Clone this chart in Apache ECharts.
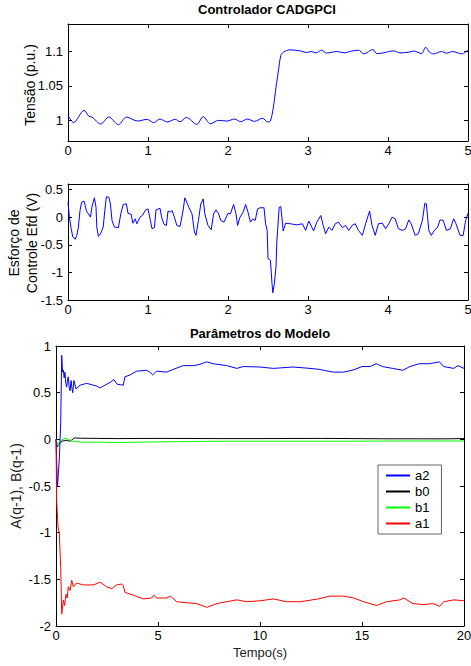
<!DOCTYPE html>
<html>
<head>
<meta charset="utf-8">
<script src="https://cdn.jsdelivr.net/npm/echarts@6/dist/echarts.min.js"></script>
<style>
html, body { margin: 0; padding: 0; background: #fff; }
#chart { width: 471px; height: 666px; }
</style>
</head>
<body>
<div id="chart"></div>
<script>
// Tensão (p.u.) - [tempo, valor]
var tensao = [[0,1.007],[0.07,0.9967],[0.2,1.0145],[0.26,1.006],[0.3,1.0048],[0.41,0.9947],[0.51,1.005],[0.63,0.9937],[0.73,1.0048],
  [0.87,0.999],[0.99,1.0015],[1.07,0.9966],[1.15,1.002],[1.24,0.9976],[1.34,1.0015],[1.4,0.998],[1.48,1.0043],[1.61,0.9942],
  [1.69,1.0053],[1.78,0.995],[1.88,1.0],[1.99,0.999],[2.08,1.0019],[2.16,0.998],[2.24,1.002],[2.33,0.9985],[2.43,1.003],
  [2.5,0.9976],[2.53,0.999],[2.567,1.019],[2.6,1.048],[2.63,1.072],[2.66,1.094],[2.69,1.099],[2.775,1.1025],[2.92,1.1005],
  [2.98,1.0985],[3.04,1.1],[3.1,1.098],[3.17,1.102],[3.23,1.0978],[3.36,1.1],[3.46,1.098],[3.52,1.1],[3.63,1.102],[3.7,1.0966],
  [3.81,1.103],[3.86,1.097],[3.94,1.098],[4.07,1.101],[4.15,1.098],[4.26,1.099],[4.32,1.1007],[4.42,1.097],[4.47,1.1063],
  [4.52,1.099],[4.57,1.0966],[4.67,1.1],[4.73,1.0976],[4.81,1.1],[4.92,1.0966],[5.0,1.102]];

// Esforço de controle Efd (V) - [tempo, valor]
var esforco = [[0,0.27],[0.017,0],[0.04,-0.21],[0.06,-0.36],[0.09,-0.4],[0.11,-0.33],[0.13,-0.18],[0.15,0.12],[0.17,0.27],
  [0.2,0.29],[0.21,0.24],[0.23,0.11],[0.25,0.07],[0.28,0],[0.3,0.19],[0.33,0.35],[0.35,0.18],[0.36,-0.18],[0.38,-0.35],
  [0.41,-0.29],[0.44,-0.18],[0.46,0.12],[0.48,0.37],[0.51,0.36],[0.53,0.24],[0.55,-0.06],[0.58,-0.18],[0.63,-0.19],
  [0.66,0.06],[0.69,0.23],[0.73,0.24],[0.75,0.07],[0.79,0.05],[0.81,-0.11],[0.84,-0.03],[0.86,-0.12],[0.9,0],[0.93,0.03],
  [0.97,0.13],[1.0,0.15],[1.03,-0.06],[1.05,-0.21],[1.08,-0.19],[1.1,0.13],[1.15,0.16],[1.17,0],[1.2,-0.13],[1.23,-0.15],
  [1.25,0.11],[1.28,0.09],[1.3,0.12],[1.33,0],[1.36,-0.15],[1.4,-0.17],[1.44,0.13],[1.46,0.35],[1.49,0.25],[1.51,0.18],
  [1.55,0.06],[1.58,-0.27],[1.6,-0.33],[1.63,-0.06],[1.66,0.24],[1.69,0.33],[1.71,0.06],[1.75,-0.15],[1.79,-0.23],
  [1.82,0.06],[1.85,0.13],[1.88,0.07],[1.91,-0.06],[1.95,-0.09],[2.0,0.07],[2.03,0.06],[2.07,0.23],[2.1,0.06],[2.12,-0.15],
  [2.15,0],[2.19,0.09],[2.22,0.23],[2.25,0.09],[2.28,-0.09],[2.31,-0.03],[2.34,-0.06],[2.37,0.15],[2.4,0.17],[2.45,0.17],
  [2.47,-0.12],[2.49,-0.24],[2.5,-0.75],[2.53,-0.78],[2.55,-1.2],[2.56,-1.37],[2.58,-1.2],[2.6,-0.9],[2.61,-0.45],
  [2.64,0.18],[2.66,0.19],[2.69,-0.25],[2.72,-0.11],[2.78,-0.12],[2.86,-0.14],[2.93,-0.12],[2.97,-0.24],[3.01,-0.07],
  [3.07,-0.25],[3.11,-0.09],[3.16,0.03],[3.19,-0.15],[3.22,-0.3],[3.26,-0.18],[3.3,-0.24],[3.34,-0.12],[3.38,-0.09],
  [3.43,-0.19],[3.47,-0.15],[3.51,-0.24],[3.55,-0.15],[3.59,-0.12],[3.63,-0.24],[3.68,-0.33],[3.72,-0.12],[3.77,0.11],
  [3.8,-0.15],[3.84,-0.33],[3.88,-0.12],[3.93,-0.11],[3.97,-0.21],[4.01,-0.12],[4.05,0],[4.09,-0.03],[4.13,-0.21],
  [4.18,-0.24],[4.22,-0.21],[4.26,-0.05],[4.29,-0.12],[4.34,-0.33],[4.38,-0.3],[4.43,-0.06],[4.46,0.25],[4.48,0.24],
  [4.51,-0.24],[4.54,-0.33],[4.58,-0.24],[4.62,-0.18],[4.65,-0.05],[4.69,-0.06],[4.73,-0.24],[4.78,-0.21],[4.82,-0.03],
  [4.85,-0.12],[4.9,-0.33],[4.94,-0.33],[4.97,-0.06],[5.0,0.07]];

// Parâmetros do modelo - [tempo, valor]
var a2 = [[0,0],[0.07,-0.51],[0.16,-0.22],[0.23,0.17],[0.28,0.9],[0.32,0.72],[0.36,0.74],[0.4,0.66],[0.44,0.72],[0.48,0.6],
  [0.52,0.56],[0.56,0.62],[0.6,0.67],[0.65,0.55],[0.69,0.52],[0.74,0.63],[0.78,0.55],[0.82,0.5],[0.88,0.63],[0.98,0.54],
  [1.18,0.58],[1.5,0.6],[1.83,0.58],[2.0,0.57],[2.16,0.55],[2.4,0.58],[2.65,0.61],[2.84,0.64],[3.0,0.59],[3.3,0.58],
  [3.38,0.67],[3.63,0.69],[3.95,0.73],[4.44,0.74],[4.6,0.72],[4.74,0.69],[4.93,0.73],[5.42,0.72],[5.75,0.75],[6.24,0.79],
  [6.73,0.79],[7.0,0.8],[7.39,0.83],[7.71,0.81],[8.37,0.79],[8.86,0.76],[9.18,0.78],[10,0.775],[10.65,0.76],[11.63,0.775],
  [12.45,0.76],[12.9,0.75],[13.1,0.74],[13.6,0.72],[14.1,0.72],[14.6,0.745],[15,0.78],[15.4,0.78],[15.7,0.81],[16,0.78],
  [16.5,0.76],[17,0.74],[17.35,0.78],[17.8,0.81],[18.3,0.81],[18.8,0.83],[19,0.78],[19.5,0.76],[19.7,0.79],[20,0.76]];
var b0 = [[0,0],[0.05,-0.08],[0.15,-0.05],[0.3,-0.02],[0.5,-0.01],[0.7,-0.02],[0.9,0.015],[1.2,0.012],[2,0.01],[3,0.008],
  [5,0.01],[8,0.008],[10,0.008],[13,0.01],[16,0.006],[19,0.005],[20,0.008]];
var b1 = [[0,0],[0.1,-0.06],[0.25,-0.01],[0.45,0.012],[0.6,0],[0.8,-0.02],[1.2,-0.03],[2,-0.03],[3,-0.035],[4,-0.03],
  [6,-0.025],[8,-0.02],[10,-0.02],[14,-0.02],[17,-0.018],[20,-0.018]];
var a1 = [[0,0],[0.03,-0.65],[0.1,-0.94],[0.16,-1.0],[0.23,-1.37],[0.28,-1.87],[0.36,-1.72],[0.42,-1.78],[0.49,-1.66],
  [0.55,-1.7],[0.6,-1.58],[0.69,-1.62],[0.77,-1.51],[0.85,-1.58],[1.0,-1.54],[1.34,-1.56],[1.83,-1.56],[2.16,-1.53],
  [2.48,-1.58],[2.73,-1.6],[2.97,-1.56],[3.22,-1.55],[3.3,-1.57],[3.38,-1.64],[3.79,-1.67],[4.28,-1.71],[4.69,-1.7],
  [4.8,-1.67],[4.93,-1.7],[5.42,-1.7],[5.62,-1.68],[5.92,-1.74],[6.4,-1.75],[6.9,-1.76],[7.39,-1.8],[7.88,-1.76],
  [8.37,-1.74],[8.86,-1.72],[9.35,-1.74],[10,-1.73],[10.65,-1.71],[11.3,-1.74],[11.96,-1.74],[12.86,-1.71],[13.4,-1.68],
  [14.1,-1.68],[14.6,-1.7],[15.07,-1.74],[15.72,-1.78],[16.2,-1.74],[16.86,-1.72],[17.05,-1.7],[17.5,-1.76],[18,-1.77],
  [18.5,-1.76],[18.8,-1.79],[19,-1.74],[19.5,-1.72],[20,-1.73]];

var ticksTensao = [1, 1.05, 1.1];
var ticksEsforco = [-1.5, -1, -0.5, 0, 0.5];
var legenda = ['a2', 'b0', 'b1', 'a1'];

var fonte = 'Liberation Sans, Arial, sans-serif';

function eixoX(grid, pos, max, interval, labels) {
  return {
    type: 'value', gridIndex: grid, position: pos, min: 0, max: max, interval: interval,
    axisLine: { show: true, onZero: false, lineStyle: { color: '#000', width: 1 } },
    axisTick: { show: true, inside: true, length: 4, lineStyle: { color: '#000' } },
    axisLabel: { show: labels, color: '#000', fontSize: 13, fontFamily: fonte, margin: 3 },
    splitLine: { show: false }
  };
}
function eixoY(grid, pos, min, max, labels, ticks, interval) {
  var e = {
    type: 'value', gridIndex: grid, position: pos, min: min, max: max,
    axisLine: { show: true, onZero: false, lineStyle: { color: '#000', width: 1 } },
    axisTick: { show: true, inside: true, length: 4, lineStyle: { color: '#000' } },
    axisLabel: { show: labels, color: '#000', fontSize: 13, fontFamily: fonte, margin: 5 },
    splitLine: { show: false }
  };
  if (ticks) {
    e.axisTick.customValues = ticks;
    e.axisLabel.customValues = ticks;
  } else {
    e.interval = interval;
  }
  return e;
}
function linha(nome, dados, idx, cor) {
  return {
    name: nome, type: 'line', data: dados, xAxisIndex: idx, yAxisIndex: idx,
    showSymbol: false, symbol: 'none',
    lineStyle: { color: cor, width: 1 }, itemStyle: { color: cor },
    emphasis: { disabled: true }
  };
}
function texto(txt, x, y, rot, peso, tam, cor) {
  return {
    type: 'text', x: x, y: y, rotation: rot,
    style: { text: txt, font: (peso || 'normal') + ' ' + tam + 'px ' + fonte, fill: cor || '#000',
      textAlign: 'center', textVerticalAlign: 'middle', align: 'center', verticalAlign: 'middle', lineHeight: 18 }
  };
}

var chart = echarts.init(document.getElementById('chart'), null, { renderer: 'svg' });
chart.setOption({
  animation: false,
  backgroundColor: '#fff',
  grid: [
    { left: 68, top: 24, width: 400, height: 117, containLabel: false, outerBoundsMode: 'none' },
    { left: 68, top: 184, width: 400, height: 116, containLabel: false, outerBoundsMode: 'none' },
    { left: 56, top: 346, width: 408, height: 280, containLabel: false, outerBoundsMode: 'none' }
  ],
  xAxis: [
    eixoX(0, 'bottom', 5, 1, true), eixoX(0, 'top', 5, 1, false),
    eixoX(1, 'bottom', 5, 1, true), eixoX(1, 'top', 5, 1, false),
    eixoX(2, 'bottom', 20, 5, true), eixoX(2, 'top', 20, 5, false)
  ],
  yAxis: [
    eixoY(0, 'left', 0.97, 1.14, true, ticksTensao), eixoY(0, 'right', 0.97, 1.14, false, ticksTensao),
    eixoY(1, 'left', -1.5, 0.6, true, ticksEsforco), eixoY(1, 'right', -1.5, 0.6, false, ticksEsforco),
    eixoY(2, 'left', -2, 1, true, null, 0.5), eixoY(2, 'right', -2, 1, false, null, 0.5)
  ],
  legend: {
    data: legenda, orient: 'vertical', left: 378, top: 465,
    backgroundColor: '#fff', borderColor: '#666', borderWidth: 1, borderRadius: 0,
    padding: [4, 12, 4, 8], itemGap: 3, itemWidth: 24, itemHeight: 2, icon: 'rect',
    textStyle: { fontSize: 13, fontFamily: fonte, color: '#000', lineHeight: 13 },
    selectedMode: false
  },
  graphic: [
    texto('Controlador CADGPCI', 267, 9, 0, 'bold', 13),
    texto('Tensão (p.u.)', 30, 85, Math.PI / 2, 'normal', 14),
    texto('Esforço de\nControle Efd (V)', 23, 243, Math.PI / 2, 'normal', 14),
    texto('Parâmetros do Modelo', 260, 333, 0, 'bold', 13),
    texto('A(q-1), B(q-1)', 16, 486, Math.PI / 2, 'normal', 14, '#222'),
    texto('Tempo(s)', 260, 652, 0, 'normal', 13, '#222')
  ],
  series: [
    Object.assign(linha('Tensão', tensao, 0, '#0000ff'), { smooth: 0.3 }),
    linha('Esforço', esforco, 2, '#0000ff'),
    linha('b0', b0, 4, '#000000'),
    linha('b1', b1, 4, '#00ff00'),
    linha('a2', a2, 4, '#0000ff'),
    linha('a1', a1, 4, '#ff0000')
  ]
});
</script>
</body>
</html>
